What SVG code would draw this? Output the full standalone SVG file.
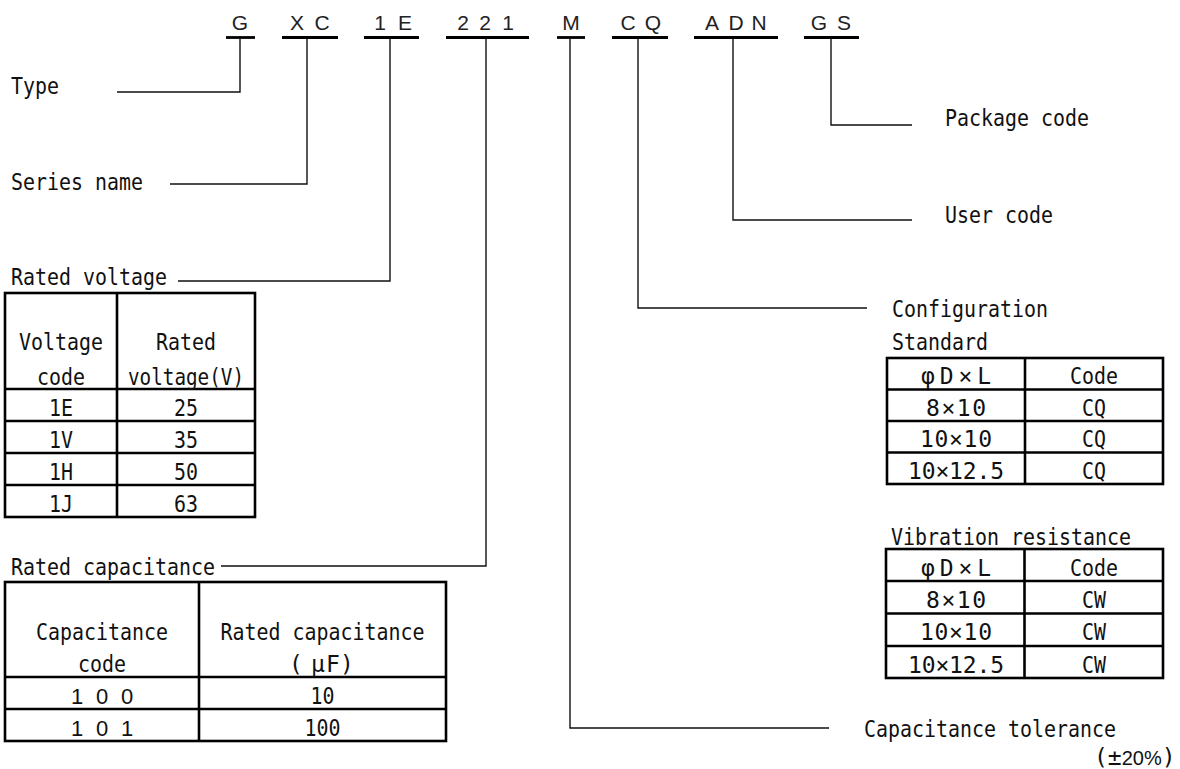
<svg xmlns="http://www.w3.org/2000/svg" width="1180" height="769" viewBox="0 0 1180 769">
<style>
.lbl{font-family:"DejaVu Sans Mono","Liberation Mono",monospace;font-size:23px;fill:#111}
.code{font-family:"Liberation Sans",Arial,sans-serif;font-size:21px;fill:#222;text-anchor:middle}
.m{text-anchor:middle}
.bar{stroke:#000;stroke-width:2.8}
.con{fill:none;stroke:#111;stroke-width:1.4}
.tb{fill:none;stroke:#000;stroke-width:2.6}
.dig{font-family:"Liberation Sans",Arial,sans-serif;font-size:22px;fill:#111;text-anchor:middle}
.pct{font-family:"Liberation Sans",Arial,sans-serif;font-size:20px}
</style>
<rect width="1180" height="769" fill="#fff"/>

<g id="code-G"><text class="code" x="240" y="30">G</text><line class="bar" x1="226" y1="37.5" x2="255" y2="37.5"/></g>
<g id="code-XC"><text class="code" y="30"><tspan x="297">X</tspan><tspan x="322">C</tspan></text><line class="bar" x1="282" y1="37.5" x2="338" y2="37.5"/></g>
<g id="code-1E"><text class="code" y="30"><tspan x="380">1</tspan><tspan x="405">E</tspan></text><line class="bar" x1="364" y1="37.5" x2="419" y2="37.5"/></g>
<g id="code-221"><text class="code" y="30"><tspan x="463">2</tspan><tspan x="485">2</tspan><tspan x="508">1</tspan></text><line class="bar" x1="446" y1="37.5" x2="529" y2="37.5"/></g>
<g id="code-M"><text class="code" x="571" y="30">M</text><line class="bar" x1="557" y1="37.5" x2="585" y2="37.5"/></g>
<g id="code-CQ"><text class="code" y="30"><tspan x="628">C</tspan><tspan x="653">Q</tspan></text><line class="bar" x1="612" y1="37.5" x2="668" y2="37.5"/></g>
<g id="code-ADN"><text class="code" y="30"><tspan x="712">A</tspan><tspan x="736">D</tspan><tspan x="759">N</tspan></text><line class="bar" x1="694" y1="37.5" x2="778" y2="37.5"/></g>
<g id="code-GS"><text class="code" y="30"><tspan x="819">G</tspan><tspan x="844">S</tspan></text><line class="bar" x1="804" y1="37.5" x2="859" y2="37.5"/></g>

<g id="connectors">
<polyline class="con" points="240,39 240,92 117,92"/>
<polyline class="con" points="307,39 307,184 170,184"/>
<polyline class="con" points="390,39 390,281 178,281"/>
<polyline class="con" points="486,39 486,566 221,566"/>
<polyline class="con" points="570,39 570,728 829,728"/>
<polyline class="con" points="638,39 638,308 867,308"/>
<polyline class="con" points="733,39 733,220 912,220"/>
<polyline class="con" points="831,39 831,125 912,125"/>
</g>

<g id="label-type"><text class="lbl" x="11" y="94" textLength="48" lengthAdjust="spacingAndGlyphs">Type</text></g>
<g id="label-series"><text class="lbl" x="11" y="190" textLength="132" lengthAdjust="spacingAndGlyphs">Series name</text></g>
<g id="label-package"><text class="lbl" x="945" y="126" textLength="144" lengthAdjust="spacingAndGlyphs">Package code</text></g>
<g id="label-user"><text class="lbl" x="945" y="223" textLength="108" lengthAdjust="spacingAndGlyphs">User code</text></g>

<g id="rated-voltage">
<text class="lbl" x="11" y="285" textLength="156" lengthAdjust="spacingAndGlyphs">Rated voltage</text>
<rect class="tb" x="5" y="293" width="250" height="224"/>
<line class="tb" x1="117" y1="293" x2="117" y2="517"/>
<line class="tb" x1="5" y1="389" x2="255" y2="389"/>
<line class="tb" x1="5" y1="421" x2="255" y2="421"/>
<line class="tb" x1="5" y1="453" x2="255" y2="453"/>
<line class="tb" x1="5" y1="485" x2="255" y2="485"/>
<text class="lbl m" x="61" y="350" textLength="84" lengthAdjust="spacingAndGlyphs">Voltage</text>
<text class="lbl m" x="61" y="385" textLength="48" lengthAdjust="spacingAndGlyphs">code</text>
<text class="lbl m" x="186" y="350" textLength="60" lengthAdjust="spacingAndGlyphs">Rated</text>
<text class="lbl m" x="186" y="385" textLength="116" lengthAdjust="spacingAndGlyphs">voltage(V)</text>
<text class="lbl m" x="61" y="416" textLength="24" lengthAdjust="spacingAndGlyphs">1E</text>
<text class="lbl m" x="186" y="416" textLength="24" lengthAdjust="spacingAndGlyphs">25</text>
<text class="lbl m" x="61" y="448" textLength="24" lengthAdjust="spacingAndGlyphs">1V</text>
<text class="lbl m" x="186" y="448" textLength="24" lengthAdjust="spacingAndGlyphs">35</text>
<text class="lbl m" x="61" y="480" textLength="24" lengthAdjust="spacingAndGlyphs">1H</text>
<text class="lbl m" x="186" y="480" textLength="24" lengthAdjust="spacingAndGlyphs">50</text>
<text class="lbl m" x="61" y="512" textLength="24" lengthAdjust="spacingAndGlyphs">1J</text>
<text class="lbl m" x="186" y="512" textLength="24" lengthAdjust="spacingAndGlyphs">63</text>
</g>

<g id="rated-capacitance">
<text class="lbl" x="11" y="575" textLength="204" lengthAdjust="spacingAndGlyphs">Rated capacitance</text>
<rect class="tb" x="5" y="582" width="441" height="159"/>
<line class="tb" x1="199" y1="582" x2="199" y2="741"/>
<line class="tb" x1="5" y1="677" x2="446" y2="677"/>
<line class="tb" x1="5" y1="709" x2="446" y2="709"/>
<text class="lbl m" x="102" y="640" textLength="132" lengthAdjust="spacingAndGlyphs">Capacitance</text>
<text class="lbl m" x="102" y="672" textLength="48" lengthAdjust="spacingAndGlyphs">code</text>
<text class="lbl m" x="322.5" y="640" textLength="204" lengthAdjust="spacingAndGlyphs">Rated capacitance</text>
<text class="lbl m" y="672"><tspan x="296">(</tspan><tspan x="318">μ</tspan><tspan x="333">F</tspan><tspan x="347">)</tspan></text>
<text class="dig" y="704"><tspan x="77">1</tspan><tspan x="102">0</tspan><tspan x="127">0</tspan></text>
<text class="lbl m" x="322.5" y="704" textLength="24" lengthAdjust="spacingAndGlyphs">10</text>
<text class="dig" y="736"><tspan x="77">1</tspan><tspan x="102">0</tspan><tspan x="127">1</tspan></text>
<text class="lbl m" x="322.5" y="736" textLength="36" lengthAdjust="spacingAndGlyphs">100</text>
</g>

<g id="configuration">
<text class="lbl" x="892" y="317" textLength="156" lengthAdjust="spacingAndGlyphs">Configuration</text>
<text class="lbl" x="892" y="350" textLength="96" lengthAdjust="spacingAndGlyphs">Standard</text>
<rect class="tb" x="887" y="358" width="276" height="126"/>
<line class="tb" x1="1025" y1="358" x2="1025" y2="484"/>
<line class="tb" x1="887" y1="389.5" x2="1163" y2="389.5"/>
<line class="tb" x1="887" y1="421" x2="1163" y2="421"/>
<line class="tb" x1="887" y1="452.5" x2="1163" y2="452.5"/>
<text class="lbl m" x="956" y="384" textLength="70" lengthAdjust="spacing">φD×L</text>
<text class="lbl m" x="1094" y="384" textLength="48" lengthAdjust="spacingAndGlyphs">Code</text>
<text class="lbl m" x="956" y="416" textLength="60" lengthAdjust="spacing">8×10</text>
<text class="lbl m" x="1094" y="416" textLength="24" lengthAdjust="spacingAndGlyphs">CQ</text>
<text class="lbl m" x="956" y="447" textLength="72" lengthAdjust="spacing">10×10</text>
<text class="lbl m" x="1094" y="447" textLength="24" lengthAdjust="spacingAndGlyphs">CQ</text>
<text class="lbl m" x="956" y="479" textLength="96" lengthAdjust="spacing">10×12.5</text>
<text class="lbl m" x="1094" y="479" textLength="24" lengthAdjust="spacingAndGlyphs">CQ</text>
</g>

<g id="vibration">
<text class="lbl" x="891" y="545" textLength="240" lengthAdjust="spacingAndGlyphs">Vibration resistance</text>
<rect class="tb" x="886" y="549" width="277" height="129"/>
<line class="tb" x1="1024.5" y1="549" x2="1024.5" y2="678"/>
<line class="tb" x1="886" y1="581" x2="1163" y2="581"/>
<line class="tb" x1="886" y1="613.5" x2="1163" y2="613.5"/>
<line class="tb" x1="886" y1="646" x2="1163" y2="646"/>
<text class="lbl m" x="956" y="576" textLength="70" lengthAdjust="spacing">φD×L</text>
<text class="lbl m" x="1094" y="576" textLength="48" lengthAdjust="spacingAndGlyphs">Code</text>
<text class="lbl m" x="956" y="608" textLength="60" lengthAdjust="spacing">8×10</text>
<text class="lbl m" x="1094" y="608" textLength="24" lengthAdjust="spacingAndGlyphs">CW</text>
<text class="lbl m" x="956" y="640" textLength="72" lengthAdjust="spacing">10×10</text>
<text class="lbl m" x="1094" y="640" textLength="24" lengthAdjust="spacingAndGlyphs">CW</text>
<text class="lbl m" x="956" y="673" textLength="96" lengthAdjust="spacing">10×12.5</text>
<text class="lbl m" x="1094" y="673" textLength="24" lengthAdjust="spacingAndGlyphs">CW</text>
</g>

<g id="tolerance">
<text class="lbl" x="864" y="737" textLength="252" lengthAdjust="spacingAndGlyphs">Capacitance tolerance</text>
<text class="lbl" x="1094" y="765">(±<tspan class="pct">20%</tspan>)</text>
</g>
</svg>
